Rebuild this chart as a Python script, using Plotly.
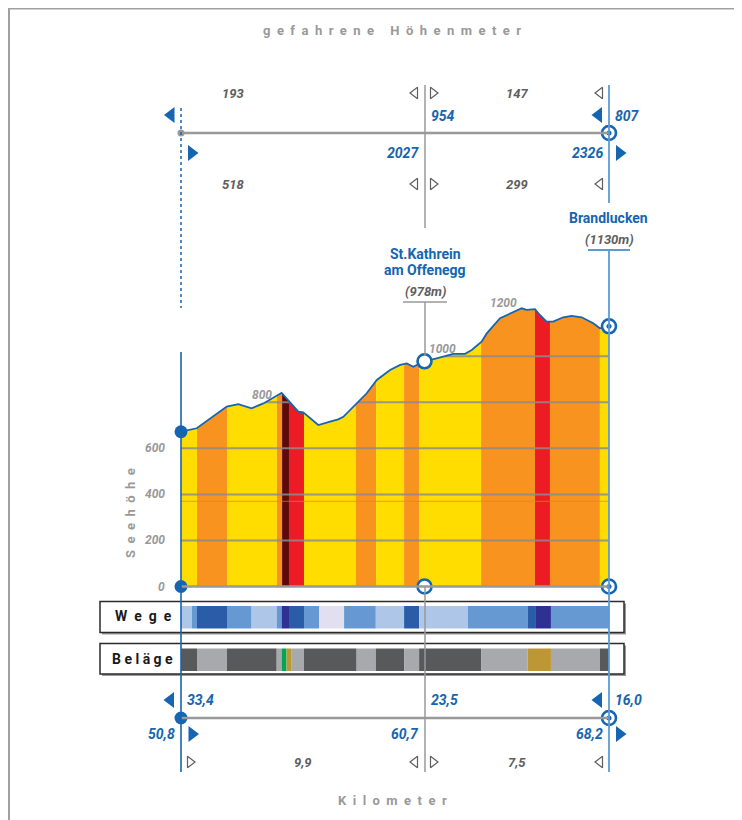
import plotly.graph_objects as go

# ---------------- data ----------------
profile_km = [50.8, 51.44, 52.66, 53.13, 53.67, 54.15, 54.89, 55.23, 55.57, 55.77, 56.38, 56.86,
              57.19, 57.40, 57.94, 58.35, 58.76, 59.30, 59.71, 59.98, 60.24, 60.7, 61.19, 61.87,
              62.35, 62.62, 63.02, 63.23, 63.77, 64.31, 64.65, 64.85, 65.19, 65.39, 65.66, 65.93,
              66.34, 66.68, 67.09, 67.56, 67.83, 68.2]
profile_elev = [672, 687, 781, 792, 774, 795, 841, 798, 759, 756, 701, 716,
                726, 737, 795, 839, 897, 940, 962, 969, 954, 978, 991, 1010,
                1010, 1027, 1063, 1099, 1165, 1193, 1208, 1201, 1204, 1179, 1150, 1150,
                1169, 1175, 1169, 1143, 1121, 1130]

band_edges = [50.8, 51.45, 52.67, 54.70, 54.91, 55.19, 55.80, 57.91, 58.73, 59.87, 60.48,
              63.00, 65.19, 65.80, 67.83, 68.2]
band_class = ["y", "o", "y", "o", "m", "r", "y", "o", "y", "o", "y", "o", "r", "o", "y"]

wege_edges = [50.8, 51.24, 51.45, 52.67, 53.67, 54.69, 54.89, 55.19, 55.80, 56.41, 57.43,
              58.72, 59.87, 60.48, 62.46, 64.89, 65.23, 65.84, 68.2]
wege_class = ["light", "med", "dark", "med", "light", "med", "navy", "dark", "med", "lav",
              "med", "light", "dark", "light", "med", "dark", "navy", "med"]

belag_edges = [50.8, 51.45, 52.67, 54.69, 54.89, 55.09, 55.30, 55.80, 57.94, 58.72, 59.87,
               60.48, 63.00, 64.89, 65.84, 67.83, 68.2]
belag_class = ["dark", "light", "dark", "light", "green", "gold", "light", "dark", "light",
               "dark", "light", "dark", "light", "gold", "light", "dark"]

grid_levels = [200, 400, 600, 800, 1000]
tick_values = [0, 200, 400, 600]
inner_labels = [800, 1000, 1200]

point_km = [50.8, 60.7, 68.2]
point_elev = [672, 978, 1130]
point_names = ["", "St.Kathrein<br>am Offenegg", "Brandlucken"]
km_total = ["50,8", "60,7", "68,2"]
km_remaining = ["33,4", "23,5", "16,0"]
km_segment = ["9,9", "7,5"]
hm_cum_up = ["", "2027", "2326"]
hm_remaining = ["", "954", "807"]
seg_up = ["518", "299"]
seg_down = ["193", "147"]

# ---------------- styles / layout ----------------
OFF = 8                      # page body margin
W, H = 742 - OFF, 820 - OFF
X_L_PX, X_R_PX = 181, 609
Y0_PX, PX_PER_M = 586.5, 0.2303
KM0, KM1 = point_km[0], point_km[-1]
PX_PER_KM = (X_R_PX - X_L_PX) / (KM1 - KM0)

def xk(px):
    return KM0 + (px - X_L_PX) / PX_PER_KM

def ym(py):
    return (Y0_PX - py) / PX_PER_M

BLUE = "#1565B0"
LBLUE = "#5B9BD5"
GRAY = "#999999"
DGRAY = "#5E5E5E"
FONT = "Roboto, Liberation Sans, sans-serif"
band_colors = {"y": "#FFDD00", "o": "#F7931E", "r": "#ED1C24", "m": "#5C0A0A"}
wege_colors = {"light": "#AEC6E8", "med": "#6699D1", "dark": "#2A5CA8", "navy": "#2E3192", "lav": "#E2E0F0"}
belag_colors = {"dark": "#58595B", "light": "#A7A9AC", "green": "#00A651", "gold": "#BD9733"}

fig = go.Figure()
TOP = ym(262)

# slope bands (full rectangles, masked above profile)
for i, c in enumerate(band_class):
    a, b = band_edges[i], band_edges[i + 1]
    fig.add_trace(go.Scatter(x=[a, a, b, b, a], y=[0, TOP, TOP, 0, 0], fill="toself",
                             fillcolor=band_colors[c], line=dict(width=0), mode="lines",
                             hoverinfo="skip", showlegend=False))

# grid lines
for lv in grid_levels:
    fig.add_trace(go.Scatter(x=[KM0, KM1], y=[lv, lv], mode="lines",
                             line=dict(color="rgba(140,140,140,0.85)", width=2),
                             hoverinfo="skip", showlegend=False))
fig.add_trace(go.Scatter(x=[KM0, KM1], y=[370, 370], mode="lines",
                         line=dict(color="rgba(235,130,20,0.7)", width=1),
                         hoverinfo="skip", showlegend=False))

# white mask above profile
fig.add_trace(go.Scatter(x=profile_km, y=profile_elev, mode="lines", line=dict(width=0),
                         hoverinfo="skip", showlegend=False))
fig.add_trace(go.Scatter(x=profile_km, y=[TOP] * len(profile_km), mode="lines", fill="tonexty",
                         fillcolor="white", line=dict(width=0), hoverinfo="skip", showlegend=False))

shapes = []
def vline(px, y0, y1, color, width=1.5, dash=None):
    ln = dict(color=color, width=width)
    if dash:
        ln["dash"] = dash
    shapes.append(dict(type="line", xref="x", yref="y", x0=xk(px), x1=xk(px), y0=ym(y0), y1=ym(y1), line=ln))

def hline(py, x0, x1, color, width=2.5):
    shapes.append(dict(type="line", xref="x", yref="y", x0=xk(x0), x1=xk(x1), y0=ym(py), y1=ym(py),
                       line=dict(color=color, width=width)))

# frame
shapes.append(dict(type="rect", xref="x", yref="y", x0=xk(9), x1=xk(760), y0=ym(8.5), y1=ym(840),
                   line=dict(color="#A0A0A0", width=2)))

# strips (Wege / Beläge)
def strip(edges, classes, colors, y_top, y_bot, box_top, box_bot):
    shapes.append(dict(type="rect", xref="x", yref="y", x0=xk(102), x1=xk(626), y0=ym(box_top + 2),
                       y1=ym(box_bot + 2), fillcolor="#9A9A9A", line=dict(width=0)))
    shapes.append(dict(type="rect", xref="x", yref="y", x0=xk(100), x1=xk(624), y0=ym(box_top),
                       y1=ym(box_bot), fillcolor="white", line=dict(color="#2B2B2B", width=1.5)))
    for i, c in enumerate(classes):
        shapes.append(dict(type="rect", xref="x", yref="y", x0=edges[i], x1=edges[i + 1],
                           y0=ym(y_top), y1=ym(y_bot), fillcolor=colors[c], line=dict(width=0)))

strip(wege_edges, wege_class, wege_colors, 606, 628.5, 601.5, 632.5)
strip(belag_edges, belag_class, belag_colors, 648.5, 671, 643.5, 674)

# axis lines and connectors
hline(133, X_L_PX, X_R_PX, GRAY)
hline(Y0_PX, X_L_PX, X_R_PX, GRAY)
hline(718, X_L_PX, X_R_PX, GRAY)
vline(X_L_PX, 108, 308, BLUE, 1.5, "dot")
vline(X_L_PX, 352, 772, BLUE, 1.6)
vline(425, 85, 228, GRAY, 1.5)
vline(425, 302, 356, GRAY, 1.5)
vline(425, 586, 772, GRAY, 1.5)
vline(X_R_PX, 85, 203, LBLUE, 1.8)
vline(X_R_PX, 250, 772, LBLUE, 1.8)
hline(302, 403, 447, GRAY, 1.5)
hline(250, 588, 630, LBLUE, 1.8)

# profile line
fig.add_trace(go.Scatter(x=profile_km, y=profile_elev, mode="lines",
                         line=dict(color=BLUE, width=1.8), hoverinfo="skip", showlegend=False))

def marker(xs, ys, symbol, size, color, line_color=None, lw=0):
    fig.add_trace(go.Scatter(x=xs, y=ys, mode="markers",
                             marker=dict(symbol=symbol, size=size, color=color,
                                         line=dict(color=line_color or color, width=lw)),
                             hoverinfo="skip", showlegend=False))

# circles
marker([point_km[0]], [ym(133)], "circle", 7, GRAY)
marker([point_km[0], point_km[0], point_km[0]], [point_elev[0], 0, ym(718)], "circle", 13, BLUE)
marker([point_km[1], point_km[1]], [point_elev[1], 0], "circle", 14, "white", BLUE, 2.6)
bx = [point_km[2]] * 4
by = [ym(133), point_elev[2], 0, ym(718)]
marker(bx, by, "circle", 14, "white", BLUE, 2.6)
marker(bx, by, "circle", 5, BLUE)

# filled triangles
marker([xk(171), xk(598.5), xk(170.5), xk(598.5)], [ym(115), ym(115), ym(700), ym(700)],
       "triangle-left", 14, BLUE)
marker([xk(191.5), xk(619.5), xk(192), xk(619.5)], [ym(153), ym(153), ym(734), ym(734)],
       "triangle-right", 14, BLUE)
# hollow triangles
marker([xk(415), xk(415), xk(600), xk(600), xk(415), xk(600)],
       [ym(93), ym(184), ym(93), ym(184), ym(762), ym(762)],
       "triangle-left-open", 10, DGRAY, DGRAY, 1.2)
marker([xk(433), xk(433), xk(433), xk(190)],
       [ym(93), ym(184), ym(762), ym(762)],
       "triangle-right-open", 10, DGRAY, DGRAY, 1.2)

ann = []
def txt(s, px, py, color, size=13, anchor="center", italic=True, bold=True, angle=0, family=FONT):
    ann.append(dict(text=s, x=xk(px), y=ym(py), xref="x", yref="y", showarrow=False,
                    xanchor=anchor, yanchor="middle", textangle=angle,
                    font=dict(family=family, size=size, color=color,
                              style="italic" if italic else "normal",
                              weight="bold" if bold else "normal")))

def spaced(s, n=2):
    return ("\u00a0" * n).join(list(s))

txt(spaced("gefahrene") + "\u00a0" * 5 + spaced("Höhenmeter"), 392, 30, GRAY, 13, italic=False)
txt(spaced("Kilometer"), 392, 800, GRAY, 13, italic=False)
txt(spaced("Seehöhe"), 130, 513, GRAY, 13, italic=False, angle=-90)
txt(spaced("Wege", 2), 143, 616, "#1A1A1A", 14, italic=False)
txt(spaced("Beläge", 1), 142, 659, "#1A1A1A", 14, italic=False)

# segment values
txt(seg_down[0], 233, 93, DGRAY)
txt(seg_up[0], 233, 184, DGRAY)
txt(seg_down[1], 517, 93, DGRAY)
txt(seg_up[1], 517, 184, DGRAY)
txt(km_segment[0], 303, 762, DGRAY)
txt(km_segment[1], 517, 762, DGRAY)

# point values
pts_px = [X_L_PX, 425, X_R_PX]
for i in range(3):
    px = pts_px[i]
    if hm_remaining[i]:
        txt(hm_remaining[i], px + 4, 116, BLUE, 14, anchor="left")
    if hm_cum_up[i]:
        txt(hm_cum_up[i], px - 4, 153, BLUE, 14, anchor="right")
    txt(km_remaining[i], px + 4, 700, BLUE, 14, anchor="left")
    txt(km_total[i], px - 4, 734, BLUE, 14, anchor="right")

# place names
txt("St.Kathrein", 425, 254, BLUE, 14, italic=False)
txt("am Offenegg", 425, 270, BLUE, 14, italic=False)
txt("(%dm)" % point_elev[1], 425, 291, DGRAY, 13)
txt(point_names[2], 608, 218, BLUE, 14, italic=False)
txt("(%dm)" % point_elev[2], 609, 239, DGRAY, 13)

# elevation labels
for v in tick_values:
    txt(str(v), 167, Y0_PX - v * PX_PER_M, GRAY, 12, anchor="right")
inner_px = [262, 442, 503]
for v, px in zip(inner_labels, inner_px):
    txt(str(v), px, Y0_PX - v * PX_PER_M - 7, GRAY, 12)

fig.update_layout(
    width=W, height=H, margin=dict(l=0, r=0, t=0, b=0, pad=0),
    paper_bgcolor="white", plot_bgcolor="white",
    xaxis=dict(range=[xk(OFF), xk(OFF + W)], visible=False, fixedrange=True),
    yaxis=dict(range=[ym(OFF + H), ym(OFF)], visible=False, fixedrange=True),
    shapes=shapes, annotations=ann, showlegend=False,
)
fig.write_html("out.html")
